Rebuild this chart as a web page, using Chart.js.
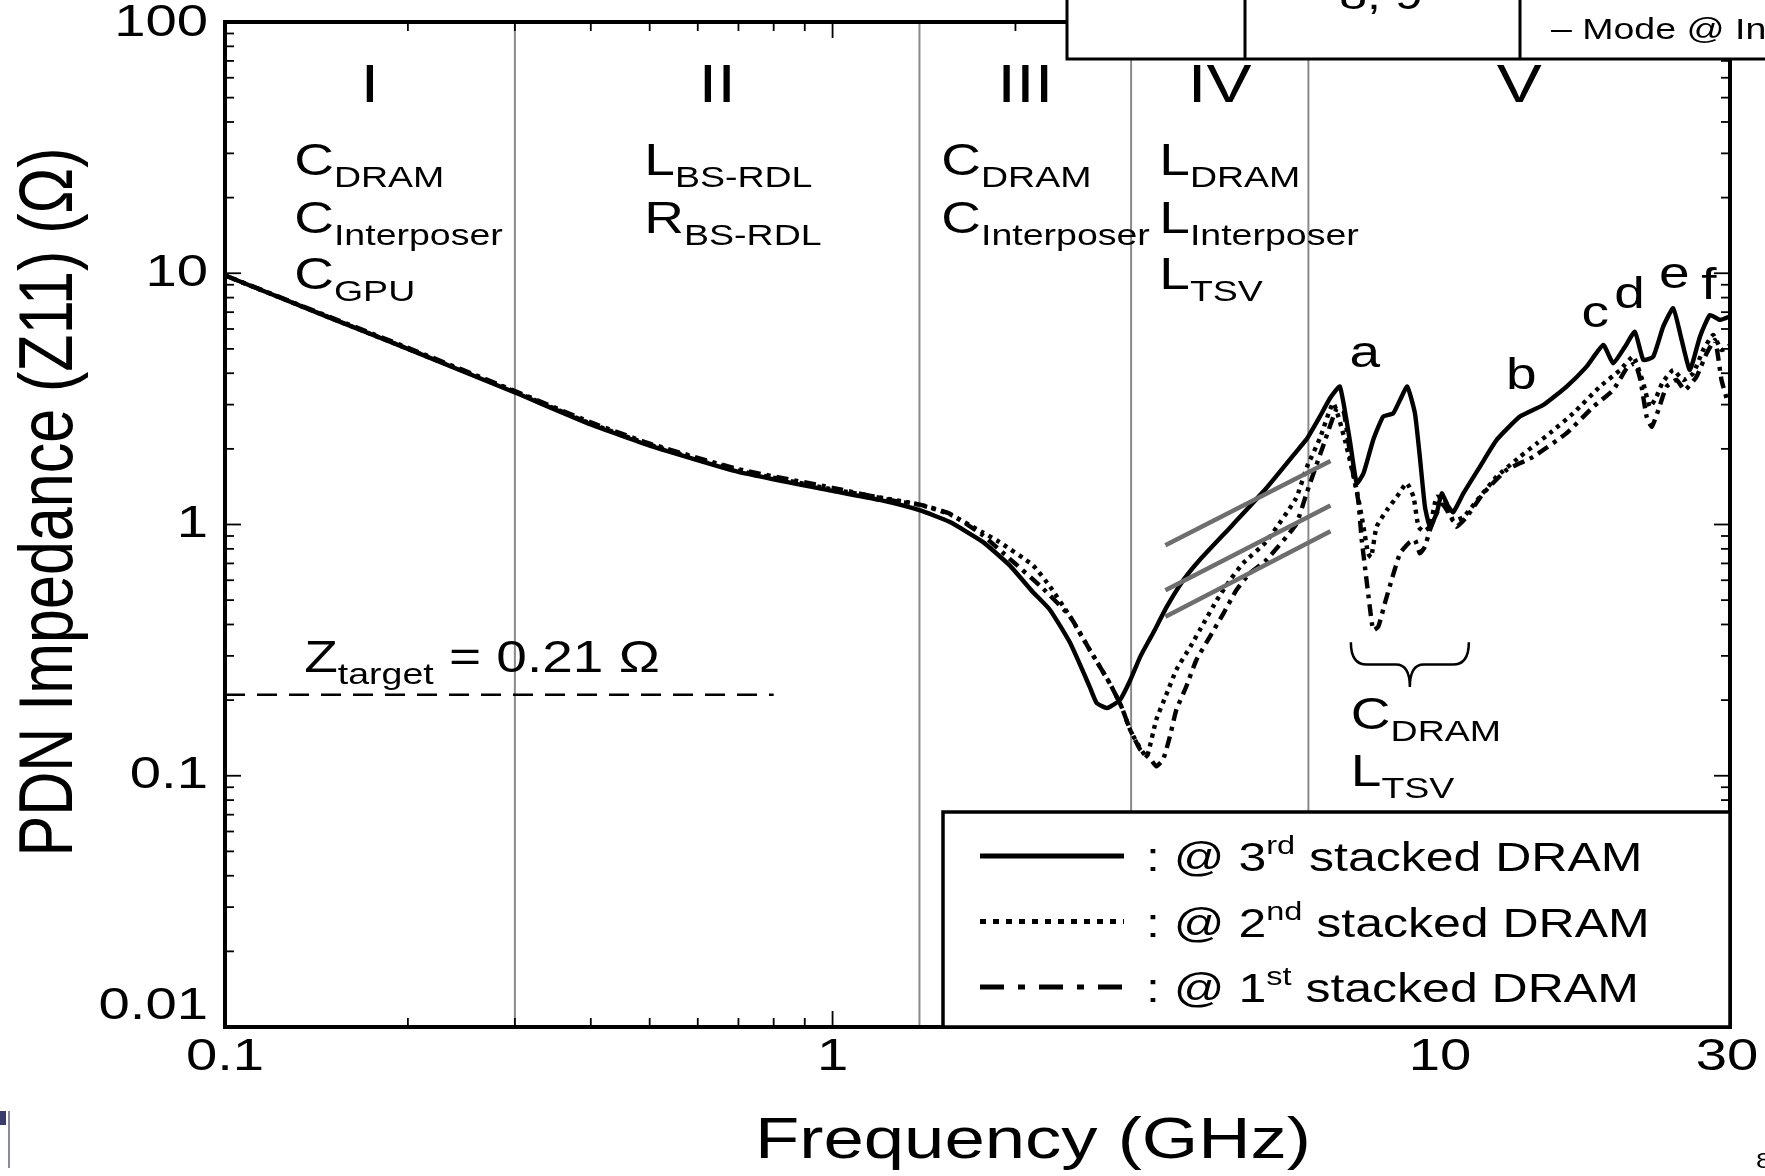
<!DOCTYPE html>
<html>
<head>
<meta charset="utf-8">
<title>PDN Impedance (Z11)</title>
<script src="https://cdn.jsdelivr.net/npm/chart.js@4.4.1/dist/chart.umd.min.js"></script>
<style>
  html, body { margin: 0; padding: 0; background: #fff; }
  canvas { display: block; }
</style>
</head>
<body>
<canvas id="pdnChart" width="1765" height="1176"></canvas>
<script>
/* ================= DATA ================= */
// @ 3rd stacked DRAM (solid)
const freq3rd = [0.1, 0.15, 0.2, 0.3, 0.4, 0.5, 0.7, 1.0, 1.2, 1.39, 1.557, 1.767, 1.955, 2.136, 2.28, 2.46, 2.65, 2.72, 2.83, 2.97, 3.09, 3.21, 3.37, 3.55, 3.78, 4.02, 4.55, 5.17, 5.86, 6.04, 6.34, 6.6, 6.84, 7.1, 7.29, 7.48, 7.76, 8.06, 8.37, 8.59, 8.83, 9.09, 9.26, 9.44, 9.62, 9.87, 10.06, 10.31, 10.51, 10.92, 11.63, 12.39, 13.53, 14.78, 16.15, 17.42, 18.56, 19.27, 20.15, 20.92, 21.6, 22.43, 23.29, 24.19, 24.98, 25.77, 26.77, 27.8, 28.87, 30];
const z3rd = [9.8, 6.6, 5.0, 3.35, 2.5, 2.06, 1.62, 1.36, 1.25, 1.14, 1.025, 0.853, 0.689, 0.539, 0.457, 0.338, 0.226, 0.195, 0.186, 0.2, 0.24, 0.298, 0.37, 0.471, 0.601, 0.722, 0.994, 1.39, 2.01, 2.2, 2.69, 3.2, 3.54, 2.17, 1.46, 1.6, 2.17, 2.69, 2.77, 3.13, 3.54, 2.77, 1.86, 1.18, 0.98, 1.11, 1.33, 1.18, 1.12, 1.33, 1.7, 2.17, 2.69, 2.99, 3.54, 4.25, 5.18, 4.38, 5.1, 5.85, 4.52, 4.66, 6.13, 7.25, 5.42, 4.12, 5.59, 6.82, 6.52, 6.73];

// @ 2nd stacked DRAM (dotted)
const freq2nd = [0.1, 0.15, 0.2, 0.3, 0.4, 0.5, 0.7, 1.0, 1.2, 1.39, 1.557, 1.767, 1.88, 2.136, 2.28, 2.46, 2.65, 2.86, 2.99, 3.09, 3.2, 3.29, 3.41, 3.55, 3.68, 3.88, 4.08, 4.29, 4.51, 4.74, 5.17, 5.79, 6.04, 6.34, 6.67, 6.97, 7.29, 7.48, 7.61, 7.7, 7.86, 8.17, 8.49, 8.81, 9.04, 9.21, 9.4, 9.62, 9.87, 10.18, 10.51, 10.92, 11.63, 12.39, 13.53, 14.42, 15.16, 16.56, 18.33, 19.78, 20.79, 21.6, 22.14, 22.71, 23.2, 24.19, 25.13, 26.1, 27.1, 28.15, 29.05, 30];
const z2nd = [9.8, 6.6, 5.0, 3.38, 2.52, 2.08, 1.64, 1.38, 1.28, 1.2, 1.1, 0.93, 0.853, 0.689, 0.566, 0.43, 0.317, 0.233, 0.188, 0.152, 0.13, 0.119, 0.167, 0.213, 0.264, 0.326, 0.404, 0.5, 0.601, 0.701, 0.853, 1.27, 1.7, 2.2, 3.04, 2.17, 1.37, 0.98, 0.768, 0.74, 0.98, 1.14, 1.29, 1.46, 1.29, 0.98, 0.94, 0.98, 1.29, 1.25, 1.04, 1.07, 1.29, 1.55, 1.86, 2.1, 2.31, 2.77, 3.54, 4.12, 4.66, 3.65, 2.94, 3.23, 3.65, 4.12, 3.76, 4.0, 4.95, 5.68, 4.95, 5.17];

// @ 1st stacked DRAM (dash-dot)
const freq1st = [0.1, 0.15, 0.2, 0.3, 0.4, 0.5, 0.7, 1.0, 1.289, 1.39, 1.557, 1.767, 1.955, 2.22, 2.46, 2.65, 2.86, 2.99, 3.09, 3.21, 3.34, 3.41, 3.5, 3.59, 3.68, 3.82, 3.97, 4.18, 4.4, 4.62, 4.86, 5.17, 5.79, 6.04, 6.44, 6.76, 6.94, 7.15, 7.33, 7.43, 7.52, 7.66, 7.76, 7.91, 8.11, 8.32, 8.59, 8.87, 9.09, 9.26, 9.44, 9.62, 9.87, 10.1, 10.51, 10.64, 11.05, 11.78, 12.87, 14.23, 16.15, 17.87, 19.27, 20.28, 20.92, 21.36, 21.87, 22.3, 22.87, 23.59, 24.5, 25.28, 26.43, 27.46, 28.34, 29.05, 29.67];
const z1st = [9.8, 6.65, 5.05, 3.4, 2.55, 2.1, 1.66, 1.4, 1.23, 1.2, 1.106, 0.906, 0.732, 0.556, 0.43, 0.317, 0.233, 0.188, 0.152, 0.127, 0.116, 0.109, 0.116, 0.143, 0.183, 0.226, 0.289, 0.358, 0.443, 0.548, 0.639, 0.72, 1.0, 1.35, 2.1, 2.9, 2.81, 1.72, 1.25, 0.868, 0.68, 0.471, 0.38, 0.392, 0.486, 0.601, 0.768, 0.842, 0.868, 0.768, 0.816, 0.95, 1.11, 1.2, 1.03, 0.98, 1.07, 1.33, 1.65, 1.86, 2.31, 2.94, 3.43, 4.18, 4.38, 3.76, 2.69, 2.45, 2.86, 3.54, 3.76, 3.43, 3.88, 4.8, 5.42, 3.76, 3.13];

// axes
const xTicks = [0.1, 1, 10, 30];
const yTicks = [0.01, 0.1, 1, 10, 100];

// region boundaries (GHz) and names
const regionBounds = [0.3, 1.39, 3.1, 6.07];
const regionNames = ["I", "II", "III", "IV", "V"];

// dominant components per region
const componentFreq = [0.13, 0.49, 1.51, 3.45];
const componentRows = [
  [["C", "DRAM"], ["C", "Interposer"], ["C", "GPU"]],
  [["L", "BS-RDL"], ["R", "BS-RDL"]],
  [["C", "DRAM"], ["C", "Interposer"]],
  [["L", "DRAM"], ["L", "Interposer"], ["L", "TSV"]]
];
const componentRowZ = [24.6, 14.5, 8.65];

// target impedance
const zTarget = 0.21;
const zTargetSpan = [0.1, 0.8];

// inductive slope guides
const slopeFreq = [3.53, 6.6];
const slopeZ = [[0.827, 1.79], [0.547, 1.19], [0.429, 0.94]];

// resonance peak labels
const peakNames = ["a", "b", "c", "d", "e", "f"];
const peakFreq = [7.52, 13.6, 18.0, 20.5, 24.3, 27.7];
const peakZ = [4.73, 3.86, 6.82, 8.12, 9.75, 8.81];

// brace under the 7-10 GHz dip
const braceFreq = [7.13, 11.15];
const braceZ = [0.34, 0.2255];
const braceRows = [["C", "DRAM"], ["L", "TSV"]];
const braceRowZ = [0.1535, 0.091];

/* ================= HELPERS ================= */
const FONT = '"Liberation Sans", Arial, sans-serif';
const STRETCH = 1.25;

const toPoints = (xs, ys) => xs.map((x, i) => ({ x: x, y: ys[i] }));

function stretchText(ctx, text, x, y, size, align) {
  ctx.save();
  ctx.font = size + "px " + FONT;
  ctx.translate(x, y);
  ctx.scale(STRETCH, 1);
  ctx.textAlign = align || "left";
  ctx.fillText(text, 0, 0);
  const w = ctx.measureText(text).width * STRETCH;
  ctx.restore();
  return w;
}

function subText(ctx, x, y, main, sub, size, subSize, drop) {
  const w = stretchText(ctx, main, x, y, size);
  return w + stretchText(ctx, sub, x + w, y + drop, subSize);
}

function logTicks(min, max) {
  const out = [];
  for (let d = Math.floor(Math.log10(min)); Math.pow(10, d) <= max; d++) {
    for (let m = 1; m <= 9; m++) {
      const v = m * Math.pow(10, d);
      if (v >= min * 0.999 && v <= max * 1.001) out.push({ v: v, major: m === 1 });
    }
  }
  return out;
}

function seg(ctx, x0, y0, x1, y1) {
  ctx.beginPath();
  ctx.moveTo(x0, y0);
  ctx.lineTo(x1, y1);
  ctx.stroke();
}

/* ================= SERIES ================= */
const series = [
  { ord: "3", sup: "rd", f: freq3rd, z: z3rd, dash: [], legendDash: [] },
  { ord: "2", sup: "nd", f: freq2nd, z: z2nd, dash: [4, 5], legendDash: [6, 7] },
  { ord: "1", sup: "st", f: freq1st, z: z1st, dash: [12, 6, 4, 6], legendDash: [24, 14, 7, 14] }
];

const datasets = [];
regionBounds.forEach(b => datasets.push({
  data: [{ x: b, y: yTicks[0] }, { x: b, y: yTicks[yTicks.length - 1] }],
  borderColor: "#8a8a8a", borderWidth: 2, pointRadius: 0, order: 5
}));
series.forEach(s => datasets.push({
  label: "@ " + s.ord + s.sup + " stacked DRAM",
  data: toPoints(s.f, s.z),
  borderColor: "#000", borderWidth: 4.4, borderDash: s.dash,
  borderJoinStyle: "round", pointRadius: 0, tension: 0.15, order: 2
}));
slopeZ.forEach(zs => datasets.push({
  data: toPoints(slopeFreq, zs),
  borderColor: "#6e6e6e", borderWidth: 4.5, pointRadius: 0, order: 1
}));
datasets.push({
  data: toPoints(zTargetSpan, [zTarget, zTarget]),
  borderColor: "#000", borderWidth: 2.5, borderDash: [20, 12], pointRadius: 0, order: 1
});

/* ================= DECORATION PLUGIN ================= */
const pdnDecor = {
  id: "pdnDecor",
  afterDraw(chart) {
    const ctx = chart.ctx;
    const area = chart.chartArea;
    const xs = chart.scales.x, ys = chart.scales.y;
    const px = v => xs.getPixelForValue(v);
    const py = v => ys.getPixelForValue(v);

    ctx.save();
    ctx.fillStyle = "#000";
    ctx.strokeStyle = "#000";

    // inward tick marks on all four sides
    ctx.lineWidth = 1.8;
    logTicks(xTicks[0], xTicks[xTicks.length - 1]).forEach(t => {
      const x = px(t.v), len = t.major ? 16 : 9;
      seg(ctx, x, area.bottom, x, area.bottom - len);
      seg(ctx, x, area.top, x, area.top + len);
    });
    logTicks(yTicks[0], yTicks[yTicks.length - 1]).forEach(t => {
      const y = py(t.v), len = t.major ? 16 : 9;
      seg(ctx, area.left, y, area.left + len, y);
      seg(ctx, area.right, y, area.right - len, y);
    });

    // frame
    ctx.lineWidth = 4;
    ctx.strokeRect(area.left, area.top, area.right - area.left, area.bottom - area.top);

    // tick labels, placed from the library's own ticks
    ctx.textBaseline = "middle";
    xs.ticks.forEach(t => {
      const x = Math.min(px(t.value), chart.width - 38);
      stretchText(ctx, String(t.value), x, area.bottom + 31, 45, "center");
    });
    ys.ticks.forEach(t => {
      const y = Math.min(Math.max(py(t.value), area.top + 2), area.bottom - 20);
      stretchText(ctx, String(t.value), area.left - 17, y, 45, "right");
    });

    // region numerals, centred between boundaries
    const edges = [xTicks[0]].concat(regionBounds, [xTicks[xTicks.length - 1]]);
    regionNames.forEach((name, i) => {
      stretchText(ctx, name, px(Math.sqrt(edges[i] * edges[i + 1])), py(55), 54, "center");
    });
    ctx.textBaseline = "alphabetic";

    // component labels
    componentRows.forEach((rows, i) => {
      rows.forEach((r, j) => subText(ctx, px(componentFreq[i]), py(componentRowZ[j]), r[0], r[1], 44, 30, 12));
    });

    // Z target label
    let zx = px(0.135);
    const zy = py(0.259);
    zx += subText(ctx, zx, zy, "Z", "target", 44, 30, 12);
    stretchText(ctx, " = " + zTarget + " \u03A9", zx, zy, 44);

    // peak labels
    ctx.textBaseline = "middle";
    peakNames.forEach((n, i) => stretchText(ctx, n, px(peakFreq[i]), py(peakZ[i]), 44, "center"));
    ctx.textBaseline = "alphabetic";

    // brace + labels
    const bx0 = px(braceFreq[0]), bx1 = px(braceFreq[1]);
    const by0 = py(braceZ[0]), by1 = py(braceZ[1]);
    const bm = (bx0 + bx1) / 2, bmid = (by0 + by1) / 2;
    ctx.lineWidth = 2.5;
    ctx.beginPath();
    ctx.moveTo(bx0, by0);
    ctx.quadraticCurveTo(bx0, bmid, bx0 + 16, bmid);
    ctx.lineTo(bm - 14, bmid);
    ctx.quadraticCurveTo(bm, bmid, bm, by1);
    ctx.quadraticCurveTo(bm, bmid, bm + 14, bmid);
    ctx.lineTo(bx1 - 16, bmid);
    ctx.quadraticCurveTo(bx1, bmid, bx1, by0);
    ctx.stroke();
    braceRows.forEach((r, j) => subText(ctx, bx0, py(braceRowZ[j]), r[0], r[1], 44, 30, 12));

    // legend box
    const lg = { left: 943, top: 812, right: area.right, bottom: area.bottom };
    ctx.fillStyle = "#fff";
    ctx.fillRect(lg.left, lg.top, lg.right - lg.left, lg.bottom - lg.top);
    ctx.fillStyle = "#000";
    ctx.lineWidth = 3.5;
    ctx.strokeRect(lg.left, lg.top, lg.right - lg.left, lg.bottom - lg.top);
    series.forEach((s, i) => {
      const y = 856 + i * 65.5;
      ctx.save();
      ctx.lineWidth = 5;
      ctx.setLineDash(s.legendDash);
      seg(ctx, 980, y, 1124, y);
      ctx.restore();
      let tx = 1146;
      const base = y + 15;
      tx += stretchText(ctx, ": @ " + s.ord, tx, base, 40);
      tx += stretchText(ctx, s.sup, tx, base - 17, 26);
      stretchText(ctx, " stacked DRAM", tx, base, 40);
    });

    // partial table at the top right
    ctx.fillStyle = "#fff";
    ctx.fillRect(1067, -10, 720, 69);
    ctx.fillStyle = "#000";
    ctx.lineWidth = 3;
    ctx.strokeRect(1067, -10, 720, 69);
    seg(ctx, 1245, -10, 1245, 59);
    seg(ctx, 1520, -10, 1520, 59);
    stretchText(ctx, "8, 9", 1381, 9, 40, "center");
    stretchText(ctx, "\u2013 Mode @ Interposer", 1551, 39, 30);

    // axis titles
    ctx.save();
    ctx.font = "58px " + FONT;
    ctx.textAlign = "center";
    ctx.translate(1033, 1158);
    ctx.scale(STRETCH, 1);
    ctx.fillText("Frequency (GHz)", 0, 0);
    ctx.restore();

    ctx.save();
    ctx.font = "61px " + FONT;
    ctx.textAlign = "center";
    ctx.translate(72, 502);
    ctx.rotate(-Math.PI / 2);
    ctx.scale(1, STRETCH);
    ctx.fillText("PDN Impedance (Z11) (\u03A9)", 0, 0);
    ctx.restore();

    // slide leftovers at the corners
    ctx.fillStyle = "#3b3b6b";
    ctx.fillRect(0, 1111, 6, 14);
    ctx.strokeStyle = "#8a8a9a";
    ctx.lineWidth = 2;
    seg(ctx, 9, 1111, 9, 1168);
    ctx.fillStyle = "#000";
    stretchText(ctx, "8", 1756, 1168, 22);

    ctx.restore();
  }
};

/* ================= CHART ================= */
new Chart(document.getElementById("pdnChart"), {
  type: "line",
  data: { datasets: datasets },
  options: {
    responsive: false,
    animation: false,
    devicePixelRatio: 1,
    events: [],
    layout: { padding: { top: 22, right: 35, left: 0, bottom: 0 } },
    plugins: { legend: { display: false }, tooltip: { enabled: false } },
    scales: {
      x: {
        type: "logarithmic",
        min: xTicks[0],
        max: xTicks[xTicks.length - 1],
        grid: { display: false, drawTicks: false },
        border: { display: false },
        ticks: { display: false },
        afterBuildTicks: s => { s.ticks = xTicks.map(v => ({ value: v })); },
        afterFit: s => { s.height = 149; s.paddingLeft = 0; s.paddingRight = 0; }
      },
      y: {
        type: "logarithmic",
        min: yTicks[0],
        max: yTicks[yTicks.length - 1],
        grid: { display: false, drawTicks: false },
        border: { display: false },
        ticks: { display: false },
        afterBuildTicks: s => { s.ticks = yTicks.map(v => ({ value: v })); },
        afterFit: s => { s.width = 225; s.paddingTop = 0; s.paddingBottom = 0; }
      }
    }
  },
  plugins: [pdnDecor]
});
</script>
</body>
</html>
